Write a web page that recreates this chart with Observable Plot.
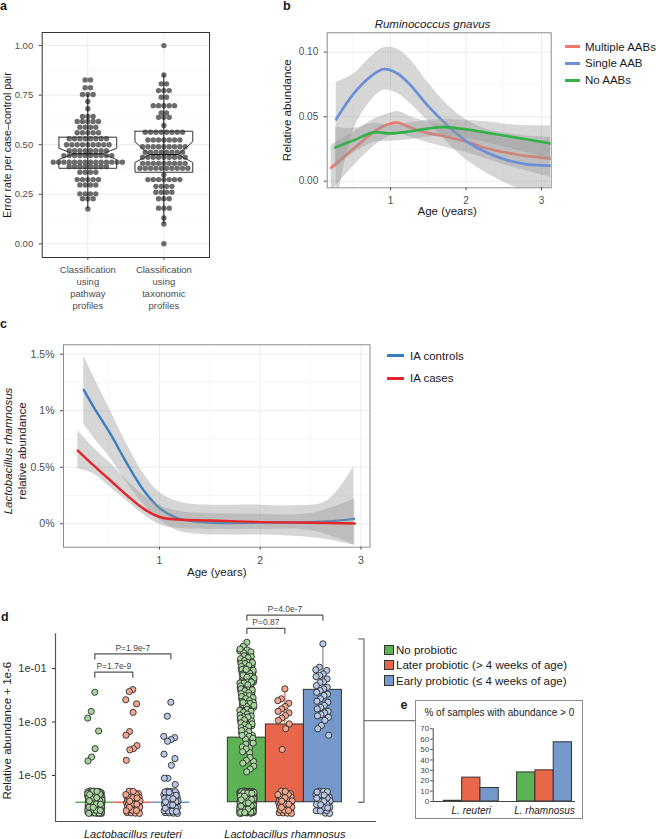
<!DOCTYPE html>
<html>
<head>
<meta charset="utf-8">
<script src="https://cdn.jsdelivr.net/npm/d3@7"></script>
<script src="https://cdn.jsdelivr.net/npm/@observablehq/plot@0.6"></script>
<style>
html,body{margin:0;padding:0;background:#fff;}
#fig{position:relative;width:656px;height:839px;overflow:hidden;background:#fff;font-family:"Liberation Sans",Arial,Helvetica,sans-serif;color:#1a1a1a;}
.letter{font-weight:bold;font-size:12.5px;line-height:13px;}
.lg{font-size:11.5px;line-height:14px;white-space:nowrap;}
</style>
</head>
<body>
<div id="fig"></div>
<script>
// ================= DATA =================
// Panel a : beeswarm rows (error rate, number of pairs) + notched box statistics
const aCategories = ["Classification\nusing\npathway\nprofiles", "Classification\nusing\ntaxonomic\nprofiles"];
const aYTitle = "Error rate per case\u2013control pair";
const aYTicks = [0, 0.25, 0.5, 0.75, 1];
const aYMinor = [0.125, 0.375, 0.625, 0.875];
const aPathwayValues = [0.827,0.787,0.753,0.718,0.681,0.642,0.617,0.588,0.56,0.53,0.50,0.47,0.445,0.412,0.39,0.361,0.324,0.297,0.252,0.227,0.176];
const aPathwayCounts = [2,2,3,1,1,3,5,4,5,8,9,8,10,14,8,4,5,4,4,3,1];
const aTaxonomicValues = [1.0,0.852,0.807,0.773,0.739,0.697,0.66,0.638,0.597,0.563,0.524,0.49,0.462,0.437,0.406,0.381,0.348,0.324,0.29,0.26,0.227,0.18,0.13,0.10,0.0];
const aTaxonomicCounts = [1,1,2,3,2,5,2,3,1,8,7,9,8,9,9,10,1,7,4,4,3,3,1,1,1];
const aQ1 = [0.381, 0.361];
const aMedian = [0.454, 0.45];
const aQ3 = [0.538, 0.568];
const aNotchLo = [0.425, 0.41];
const aNotchHi = [0.482, 0.515];
const aWhiskerLo = [0.176, 0.10];
const aWhiskerHi = [0.753, 0.852];

// Panel b : Ruminococcus gnavus smooths
const bTitle = "Ruminococcus gnavus";
const bSeriesNames = ["Multiple AABs", "Single AAB", "No AABs"];
const bColors = ["#f0776c", "#6b90d8", "#33b249"];
const bYTicks = [0, 0.05, 0.10];
const bYMinor = [0.025, 0.075];
const bXTicks = [1, 2, 3];
const bXMinor = [0.5, 1.5, 2.5];
const bMultipleAge = [0.215,0.514,0.78,0.96,1.1,1.265,1.486,1.75,2.016,2.28,2.546,2.81,3.12];
const bMultiple    = [0.0104,0.0253,0.0383,0.044,0.0453,0.0414,0.0375,0.0344,0.0305,0.0253,0.022,0.0194,0.0176];
const bMultipleLo  = [-0.008,0.012,0.027,0.034,0.037,0.034,0.030,0.026,0.022,0.017,0.012,0.008,0.003];
const bMultipleHi  = [0.028,0.038,0.048,0.052,0.054,0.050,0.046,0.043,0.040,0.036,0.033,0.031,0.032];
const bSingleAge = [0.28,0.514,0.735,0.91,1.09,1.265,1.486,1.75,2.016,2.28,2.546,2.81,3.12];
const bSingle    = [0.048,0.068,0.081,0.0868,0.0835,0.0744,0.0589,0.0434,0.0305,0.022,0.0163,0.013,0.012];
const bSingleLo  = [-0.02,0.040,0.062,0.0705,0.068,0.060,0.047,0.030,0.016,0.006,-0.002,-0.008,-0.012];
const bSingleHi  = [0.0765,0.083,0.096,0.1034,0.1025,0.094,0.077,0.0595,0.047,0.040,0.037,0.035,0.034];
const bNoneAge = [0.27,0.514,0.78,1.0,1.22,1.486,1.706,2.016,2.28,2.546,2.81,3.12];
const bNone    = [0.0261,0.0318,0.0378,0.037,0.0383,0.0408,0.0419,0.0401,0.0375,0.0349,0.0323,0.0292];
const bNoneLo  = [0.010,0.022,0.030,0.031,0.032,0.034,0.035,0.033,0.030,0.026,0.022,0.016];
const bNoneHi  = [0.042,0.041,0.045,0.043,0.045,0.047,0.048,0.047,0.046,0.044,0.043,0.043];

// Panel c : Lactobacillus rhamnosus smooths (relative abundance, %)
const cSeriesNames = ["IA controls", "IA cases"];
const cColors = ["#3b7fc0", "#e3262b"];
const cYTicks = [0, 0.5, 1, 1.5];
const cYTickLabels = ["0%", "0.5%", "1%", "1.5%"];
const cYMinor = [0.25, 0.75, 1.25];
const cXTicks = [1, 2, 3];
const cXMinor = [0.5, 1.5, 2.5];
const cControlAge = [0.248,0.348,0.513,0.679,0.844,1.01,1.176,1.34,1.67,2.0,2.33,2.66,2.93];
const cControl    = [1.184,1.03,0.795,0.53,0.294,0.132,0.05,0.023,0.006,0.01,0.012,0.02,0.044];
const cControlLo  = [0.883,0.76,0.58,0.36,0.17,0.03,-0.06,-0.09,-0.10,-0.10,-0.11,-0.14,-0.19];
const cControlHi  = [1.487,1.30,1.0,0.70,0.44,0.27,0.20,0.17,0.165,0.165,0.16,0.20,0.506];
const cCaseAge = [0.189,0.348,0.513,0.679,0.844,1.01,1.176,1.51,2.0,2.5,2.94];
const cCase    = [0.648,0.515,0.383,0.25,0.132,0.058,0.038,0.029,0.015,0.009,0.003];
const cCaseLo  = [0.486,0.44,0.32,0.20,0.08,-0.01,-0.04,-0.05,-0.05,-0.06,-0.19];
const cCaseHi  = [0.824,0.67,0.535,0.383,0.25,0.16,0.11,0.09,0.085,0.09,0.22];

// Panel d : probiotic groups
const dSpecies = ["Lactobacillus reuteri", "Lactobacillus rhamnosus"];
const dGroups = ["No probiotic", "Later probiotic (> 4 weeks of age)", "Early probiotic (\u2264 4 weeks of age)"];
const dBarFill = ["#5db254", "#e8674b", "#7398c9"];
const dPointFill = ["#a8d59e", "#f4a78f", "#b8c8e6"];
const dErrColor = ["#5db254", "#e8674b", "#8a8a8a"];
const dYTicks = [1e-1, 1e-3, 1e-5];
const dYTickLabels = ["1e-01", "1e-03", "1e-05"];
const dReuteriMean = [0, 0, 0];
const dRhamnosusMean = [2.6e-4, 8.1e-4, 0.016];
const dRhamnosusErrTop = [0.68, 0.0178, 0.84];
const dReuteriNo = [1.3e-2,2.5e-3,1.4e-3,4.6e-4,1.0e-4,4.8e-5,3.4e-5];
const dReuteriLater = [1.64e-2,1.38e-2,6.8e-3,4.8e-3,2.3e-3,4.4e-4,3.2e-4,1.3e-4,1.0e-4,9e-5,3.6e-5];
const dReuteriEarly = [5.5e-3,1.65e-3,2.9e-4,2.6e-4,2.2e-4,1.9e-4,6.2e-5,4.2e-5,2.3e-5,6.9e-6,6.9e-6,3.6e-6];
const dRhamnosusNoTop = [0.96, 0.68];
// dense column read as (log10 bin centre, number of samples)
const dRhamnosusNoBins = [[-0.375,6],[-0.625,10],[-0.875,12],[-1.125,12],[-1.375,12],[-1.625,12],[-1.875,12],[-2.125,12],[-2.375,11],[-2.625,10],[-2.875,9],[-3.125,7],[-3.375,6],[-3.625,5],[-3.875,4],[-4.125,3],[-4.375,3],[-4.625,2],[-4.875,2]];
const dRhamnosusLater = [1.74e-2,7.4e-3,6.3e-3,5.0e-3,3.8e-3,3.1e-3,2.5e-3,2.2e-3,1.74e-3,1.4e-3,1.15e-3,8.5e-4,5.6e-4,9.3e-5];
const dRhamnosusEarly = [0.84,0.112,0.09,0.085,0.063,0.055,0.05,0.041,0.032,0.03,0.023,0.02,0.0174,0.015,0.0129,0.011,0.0098,0.0074,0.006,0.0055,0.0042,0.0035,0.0031,0.0025,0.0022,0.0019,0.0017,0.0015,0.00115,7.4e-4,5.6e-4,3.2e-4];
const dReuteriZeros = [230, 50, 70];
const dRhamnosusZeros = [230, 45, 40];
const dBrackets = [
  {from: 1, to: 2, y: 0.073, label: "P=1.7e-9"},
  {from: 1, to: 3, y: 0.355, label: "P=1.9e-7"},
  {from: 5, to: 6, y: 3.2, label: "P=0.87"},
  {from: 5, to: 7, y: 10, label: "P=4.0e-7"}
];

// Panel e : % of samples with abundance > 0
const eTitle = "% of samples with abundance > 0";
const eSpecies = ["L. reuteri", "L. rhamnosus"];
const eReuteri = [0.7, 23, 13];
const eRhamnosus = [28, 30, 57];
const eYTicks = [0, 10, 20, 30, 40, 50, 60, 70];

// ================= DRAWING =================
const FONT = '"Liberation Sans", Arial, Helvetica, sans-serif';
const fig = document.getElementById("fig");
function put(el, left, top) { el.style.position = "absolute"; el.style.left = left + "px"; el.style.top = top + "px"; fig.appendChild(el); return el; }
function div(text, left, top, cls, style) { const d = document.createElement("div"); d.textContent = text; if (cls) d.className = cls; Object.assign(d.style, style || {}); return put(d, left, top); }
const baseStyle = (size) => ({background: "transparent", fontFamily: FONT, fontSize: size + "px", color: "#4d4d4d", overflow: "visible"});
const intFmt = d => String(d);

// ---------- panel a ----------
const aDots = [];
[[aPathwayValues, aPathwayCounts], [aTaxonomicValues, aTaxonomicCounts]].forEach(([vals, counts], k) => {
  vals.forEach((v, r) => { const n = counts[r]; for (let j = 0; j < n; j++) aDots.push({x: k + 1 + (j - (n - 1) / 2) * 0.07, y: v}); });
});
const A_HALF = 0.38, A_NOTCH = 0.19;
const aBox = [];
aMedian.forEach((m, k) => {
  const c = k + 1;
  [[c - A_HALF, aQ3[k]], [c + A_HALF, aQ3[k]], [c + A_HALF, aNotchHi[k]], [c + A_NOTCH, m], [c + A_HALF, aNotchLo[k]], [c + A_HALF, aQ1[k]],
   [c - A_HALF, aQ1[k]], [c - A_HALF, aNotchLo[k]], [c - A_NOTCH, m], [c - A_HALF, aNotchHi[k]], [c - A_HALF, aQ3[k]]]
   .forEach(([x, y]) => aBox.push({k, x, y}));
});
const aPlot = Plot.plot({
  width: 230, height: 320, marginLeft: 41.7, marginRight: 21, marginTop: 32, marginBottom: 63,
  x: {domain: [0.4, 2.6]}, y: {domain: [-0.069, 1.066]},
  style: baseStyle(9.5),
  marks: [
    Plot.ruleY(aYMinor, {stroke: "#f2f2f2", strokeWidth: 0.6}),
    Plot.ruleY(aYTicks, {stroke: "#ebebeb", strokeWidth: 1}),
    Plot.ruleX([1, 2], {stroke: "#ebebeb", strokeWidth: 1}),
    Plot.dot(aDots, {x: "x", y: "y", r: 2.7, fill: "#5c5c5c", fillOpacity: 0.9}),
    Plot.ruleX([0, 1], {x: d => d + 1, y1: d => aWhiskerLo[d], y2: d => aWhiskerHi[d], stroke: "#111", strokeWidth: 1}),
    Plot.line(aBox, {x: "x", y: "y", z: "k", stroke: "#333", strokeWidth: 1}),
    Plot.ruleY(aMedian, {y: d => d, x1: (d, i) => i + 1 - A_NOTCH, x2: (d, i) => i + 1 + A_NOTCH, stroke: "#111", strokeWidth: 1.2}),
    Plot.frame({stroke: "#333"}),
    Plot.axisY({ticks: aYTicks, tickFormat: d3.format(".2f"), tickSize: 3, label: null}),
    Plot.axisX({ticks: [1, 2], tickSize: 3, tickFormat: () => "", label: null}),
    Plot.text(aCategories, {x: (d, i) => i + 1, frameAnchor: "bottom", lineAnchor: "top", dy: 6.6, lineHeight: 1.26, fontSize: 9.5, fill: "#4d4d4d"}),
    Plot.text([aYTitle], {frameAnchor: "left", textAnchor: "middle", lineAnchor: "middle", rotate: -90, dx: -35, fontSize: 10.5, fill: "#1a1a1a"})
  ]
});
put(aPlot, 0, 0);

// ---------- panel b ----------
const bRows = (age, y, lo, hi) => age.map((a, i) => ({age: a, y: y[i], lo: lo[i], hi: hi[i]}));
const bData = [bRows(bMultipleAge, bMultiple, bMultipleLo, bMultipleHi), bRows(bSingleAge, bSingle, bSingleLo, bSingleHi), bRows(bNoneAge, bNone, bNoneLo, bNoneHi)];
const bPlot = Plot.plot({
  width: 426, height: 220, marginLeft: 96.7, marginRight: 105.3, marginTop: 32.3, marginBottom: 32.7,
  x: {domain: [0.161, 3.128]}, y: {domain: [-0.0051, 0.115]},
  style: baseStyle(10),
  marks: [
    Plot.ruleY(bYMinor, {stroke: "#f2f2f2", strokeWidth: 0.6}),
    Plot.ruleX(bXMinor, {stroke: "#f2f2f2", strokeWidth: 0.6}),
    Plot.ruleY(bYTicks, {stroke: "#ebebeb", strokeWidth: 1}),
    Plot.ruleX(bXTicks, {stroke: "#ebebeb", strokeWidth: 1}),
    ...bData.flatMap((rows, s) => [
      Plot.areaY(rows, {x: "age", y1: "lo", y2: "hi", fill: "#999", fillOpacity: 0.4, curve: "catmull-rom", clip: true}),
      Plot.line(rows, {x: "age", y: "y", stroke: bColors[s], strokeWidth: 2.7, curve: "catmull-rom", clip: true})
    ]),
    Plot.frame({stroke: "#8c8c8c"}),
    Plot.axisY({ticks: bYTicks, tickFormat: d3.format(".2f"), tickSize: 3, label: null}),
    Plot.axisX({ticks: bXTicks, tickFormat: intFmt, tickSize: 3, label: null}),
    Plot.text(["Relative abundance"], {frameAnchor: "left", textAnchor: "middle", lineAnchor: "middle", rotate: -90, dx: -39.4, fontSize: 11.5, fill: "#1a1a1a"}),
    Plot.text(["Age (years)"], {frameAnchor: "bottom", lineAnchor: "middle", dy: 23.4, dx: 8, fontSize: 11.5, fill: "#1a1a1a"}),
    Plot.text([bTitle], {frameAnchor: "top", lineAnchor: "middle", dy: -8.3, dx: -6.7, fontSize: 11.5, fontStyle: "italic", fill: "#1a1a1a"})
  ]
});
put(bPlot, 230, 0);
bSeriesNames.forEach((name, i) => {
  const cy = 46.7 + i * 16.7;
  div("", 565, cy - 1.6, null, {width: "15px", height: "3.2px", background: bColors[i]});
  div(name, 585, cy - 7, "lg");
});

// ---------- panel c ----------
const cData = [bRows(cControlAge, cControl, cControlLo, cControlHi), bRows(cCaseAge, cCase, cCaseLo, cCaseHi)];
const cPlot = Plot.plot({
  width: 656, height: 255, marginLeft: 63, marginRight: 286.5, marginTop: 14.3, marginBottom: 38.3,
  x: {domain: [0.047, 3.09]}, y: {domain: [-0.207, 1.583]},
  style: baseStyle(10.5),
  marks: [
    Plot.ruleY(cYMinor, {stroke: "#f2f2f2", strokeWidth: 0.6}),
    Plot.ruleX(cXMinor, {stroke: "#f2f2f2", strokeWidth: 0.6}),
    Plot.ruleY(cYTicks, {stroke: "#ebebeb", strokeWidth: 1}),
    Plot.ruleX(cXTicks, {stroke: "#ebebeb", strokeWidth: 1}),
    ...cData.flatMap((rows, s) => [
      Plot.areaY(rows, {x: "age", y1: "lo", y2: "hi", fill: "#999", fillOpacity: 0.4, curve: "catmull-rom", clip: true}),
      Plot.line(rows, {x: "age", y: "y", stroke: cColors[s], strokeWidth: 2.4, curve: "catmull-rom", clip: true})
    ]),
    Plot.frame({stroke: "#8c8c8c"}),
    Plot.axisY({ticks: cYTicks, tickFormat: d => cYTickLabels[cYTicks.indexOf(d)], tickSize: 3, label: null}),
    Plot.axisX({ticks: cXTicks, tickFormat: intFmt, tickSize: 3, label: null}),
    Plot.text(["Lactobacillus rhamnosus"], {frameAnchor: "left", textAnchor: "middle", lineAnchor: "middle", rotate: -90, dx: -55.5, dy: 5, fontSize: 11.5, fontStyle: "italic", fill: "#1a1a1a"}),
    Plot.text(["relative abundance"], {frameAnchor: "left", textAnchor: "middle", lineAnchor: "middle", rotate: -90, dx: -41.2, dy: 5, fontSize: 11.5, fill: "#1a1a1a"}),
    Plot.text(["Age (years)"], {frameAnchor: "bottom", lineAnchor: "middle", dy: 25, fontSize: 11.5, fill: "#1a1a1a"})
  ]
});
put(cPlot, 0, 330);
cSeriesNames.forEach((name, i) => {
  const cy = 355.7 + i * 22.6;
  div("", 387, cy - 1.3, null, {width: "17px", height: "2.6px", background: cColors[i]});
  div(name, 410, cy - 7, "lg");
});

// ---------- panel d ----------
const R1 = 0.7548776662, R2 = 0.5698402910;
const frac = v => v - Math.floor(v);
const jx = i => 0.19 * (2 * frac(0.5 + i * R1) - 1);
const jy = i => 2 * frac(0.5 + i * R2) - 1;
const dPoints = [];
function addPoints(x, g, vals, zeros, bins) {
  let i = 0;
  vals.forEach(v => { dPoints.push({x: x + jx(i), y: v + 1e-6, g}); i++; });
  (bins || []).forEach(([c, n]) => { for (let k = 0; k < n; k++) { dPoints.push({x: x + jx(i), y: Math.pow(10, c + 0.125 * jy(i)), g}); i++; } });
  for (let k = 0; k < zeros; k++) { dPoints.push({x: x + jx(i), y: Math.pow(10, -6 + 0.42 * jy(i)), g}); i++; }
}
addPoints(1, 0, dReuteriNo, dReuteriZeros[0]);
addPoints(2, 1, dReuteriLater, dReuteriZeros[1]);
addPoints(3, 2, dReuteriEarly, dReuteriZeros[2]);
addPoints(5, 0, dRhamnosusNoTop, dRhamnosusZeros[0], dRhamnosusNoBins);
addPoints(6, 1, dRhamnosusLater, dRhamnosusZeros[1]);
addPoints(7, 2, dRhamnosusEarly, dRhamnosusZeros[2]);
const dBars = [
  ...dReuteriMean.map((m, g) => ({x: g + 1, g, mean: m})),
  ...dRhamnosusMean.map((m, g) => ({x: g + 5, g, mean: m, err: dRhamnosusErrTop[g]}))
];
const dXDomain = [-0.034, 8.41];
const dYDomain = [Math.pow(10, -6.72), Math.pow(10, 0.3)];
const tickDrop = Math.pow(10, -0.19);
const dBracketPts = dBrackets.flatMap((b, k) => [
  {k, x: b.from, y: b.y * tickDrop}, {k, x: b.from, y: b.y}, {k, x: b.to, y: b.y}, {k, x: b.to, y: b.y * tickDrop}
]);
const dSide = {x: 8.08, xTick: 7.94, xEnd: 9.45, yLow: 1e-6, yHigh: 1.29};
const dSidePts = [[dSide.xTick, dSide.yHigh], [dSide.x, dSide.yHigh], [dSide.x, dSide.yLow], [dSide.xTick, dSide.yLow]];
const dSideMid = Math.sqrt(dSide.yLow * dSide.yHigh);
const dPlot = Plot.plot({
  width: 420, height: 244, marginLeft: 55, marginRight: 44, marginTop: 38.3, marginBottom: 18,
  x: {domain: dXDomain, axis: null}, y: {type: "log", domain: dYDomain},
  color: {type: "identity"},
  style: baseStyle(11),
  marks: [
    Plot.ruleY(dBars.filter(d => d.mean === 0), {y: () => 1e-6, x1: d => d.x - 0.5, x2: d => d.x + 0.5, stroke: d => dBarFill[d.g], strokeWidth: 1.5}),
    Plot.rect(dBars.filter(d => d.mean > 0), {x1: d => d.x - 0.5, x2: d => d.x + 0.5, y1: () => 1e-6, y2: d => d.mean + 1e-6, fill: d => dBarFill[d.g], stroke: "#333", strokeWidth: 1}),
    Plot.ruleX(dBars.filter(d => d.err), {x: "x", y1: d => d.mean + 1e-6, y2: "err", stroke: d => dErrColor[d.g], strokeWidth: 1.2}),
    Plot.dot(dPoints, {x: "x", y: "y", r: 3.1, fill: d => dPointFill[d.g], stroke: "#2b2b2b", strokeWidth: 0.9}),
    Plot.line(dBracketPts, {x: "x", y: "y", z: "k", stroke: "#555", strokeWidth: 1.2}),
    Plot.text(dBrackets, {x: d => (d.from + d.to) / 2, y: "y", text: "label", dy: -6, fontSize: 8.5, fill: "#444"}),
    Plot.line(dSidePts, {x: d => d[0], y: d => d[1], stroke: "#777", strokeWidth: 1.3}),
    Plot.ruleY([dSideMid], {x1: dSide.x, x2: dSide.xEnd, stroke: "#777", strokeWidth: 1.3}),
    Plot.ruleX([dXDomain[0]], {y1: dYDomain[0], y2: dYDomain[1], stroke: "#555", strokeWidth: 1.2}),
    Plot.ruleY([dYDomain[0]], {x1: dXDomain[0], x2: dXDomain[1], stroke: "#555", strokeWidth: 1.2}),
    Plot.axisY({ticks: dYTicks, tickFormat: d => dYTickLabels[dYTicks.indexOf(d)], tickSize: 3, label: null, color: "#333"}),
    Plot.text(dSpecies, {x: (d, i) => [2, 6][i], frameAnchor: "bottom", lineAnchor: "middle", dy: 13, fontSize: 11, fontStyle: "italic", fill: "#1a1a1a"}),
    Plot.text(["Relative abundance + 1e-6"], {frameAnchor: "left", textAnchor: "middle", lineAnchor: "middle", rotate: -90, dx: -48.3, dy: 3, fontSize: 11.5, fill: "#1a1a1a"})
  ]
});
put(dPlot, 0, 595);
dGroups.forEach((name, i) => {
  const cy = 650 + i * 15.3;
  div("", 384, cy - 5.2, null, {width: "10.4px", height: "10.4px", background: dBarFill[i], border: "1px solid #333", boxSizing: "border-box"});
  div(name, 396, cy - 7, "lg");
});

// ---------- panel e ----------
const eBars = [
  ...eReuteri.map((v, g) => ({x: g + 1, g, v})),
  ...eRhamnosus.map((v, g) => ({x: g + 5, g, v}))
];
const eXDomain = [-0.08, 7.69];
const ePlot = Plot.plot({
  width: 166, height: 117, marginLeft: 16.7, marginRight: 7, marginTop: 27.3, marginBottom: 17,
  x: {domain: eXDomain, axis: null}, y: {domain: [0, 70]},
  color: {type: "identity"},
  style: baseStyle(8),
  marks: [
    Plot.rect(eBars, {x1: d => d.x - 0.5, x2: d => d.x + 0.5, y1: () => 0, y2: "v", fill: d => dBarFill[d.g], stroke: "#333", strokeWidth: 1}),
    Plot.ruleX([eXDomain[0]], {y1: 0, y2: 70, stroke: "#444"}),
    Plot.ruleY([0], {x1: eXDomain[0], x2: eXDomain[1], stroke: "#444"}),
    Plot.axisY({ticks: eYTicks, tickSize: 2.5, tickPadding: 1.5, label: null, color: "#444"}),
    Plot.text(eSpecies, {x: (d, i) => [2, 6][i], frameAnchor: "bottom", lineAnchor: "middle", dy: 9.7, fontSize: 10, fontStyle: "italic", fill: "#222"}),
    Plot.text([eTitle], {frameAnchor: "top", lineAnchor: "middle", dy: -16, dx: -5, fontSize: 10, fill: "#222"})
  ]
});
const eBox = document.createElement("div");
Object.assign(eBox.style, {width: "168px", height: "119px", border: "1px solid #8c8c8c", boxSizing: "border-box", background: "#fff"});
put(eBox, 415, 700);
ePlot.style.position = "absolute"; ePlot.style.left = "0px"; ePlot.style.top = "0px";
eBox.appendChild(ePlot);

// ---------- panel letters ----------
div("a", 0, 0, "letter");
div("b", 283, 0, "letter");
div("c", 0, 318, "letter");
div("d", 1, 611, "letter");
div("e", 400.5, 699, "letter");
</script>
</body>
</html>
